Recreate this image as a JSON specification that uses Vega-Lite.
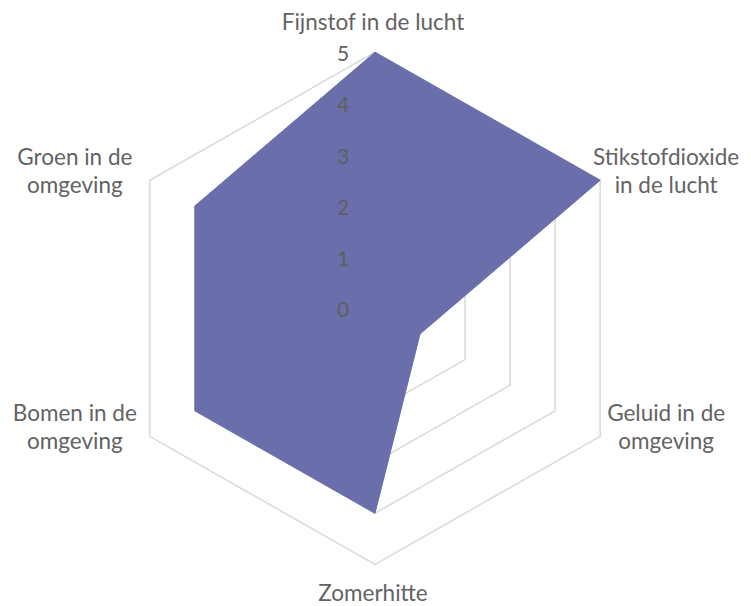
{
  "$schema": "https://vega.github.io/schema/vega-lite/v6.json",
  "width": 751,
  "height": 606,
  "padding": 0,
  "autosize": {"type": "fit", "contains": "padding"},
  "background": "#ffffff",
  "config": {"view": {"stroke": null}},
  "datasets": {
    "scores": [
      {"categorie": "Fijnstof in de lucht", "label": "Fijnstof in de lucht", "i": 0, "score": 5},
      {"categorie": "Stikstofdioxide in de lucht", "label": "Stikstofdioxide\nin de lucht", "i": 1, "score": 5},
      {"categorie": "Geluid in de omgeving", "label": "Geluid in de\nomgeving", "i": 2, "score": 1},
      {"categorie": "Zomerhitte", "label": "Zomerhitte", "i": 3, "score": 4},
      {"categorie": "Bomen in de omgeving", "label": "Bomen in de\nomgeving", "i": 4, "score": 4},
      {"categorie": "Groen in de omgeving", "label": "Groen in de\nomgeving", "i": 5, "score": 4}
    ],
    "grid": [
      {"niveau": 1, "i": 0}, {"niveau": 1, "i": 1}, {"niveau": 1, "i": 2}, {"niveau": 1, "i": 3}, {"niveau": 1, "i": 4}, {"niveau": 1, "i": 5},
      {"niveau": 2, "i": 0}, {"niveau": 2, "i": 1}, {"niveau": 2, "i": 2}, {"niveau": 2, "i": 3}, {"niveau": 2, "i": 4}, {"niveau": 2, "i": 5},
      {"niveau": 3, "i": 0}, {"niveau": 3, "i": 1}, {"niveau": 3, "i": 2}, {"niveau": 3, "i": 3}, {"niveau": 3, "i": 4}, {"niveau": 3, "i": 5},
      {"niveau": 4, "i": 0}, {"niveau": 4, "i": 1}, {"niveau": 4, "i": 2}, {"niveau": 4, "i": 3}, {"niveau": 4, "i": 4}, {"niveau": 4, "i": 5},
      {"niveau": 5, "i": 0}, {"niveau": 5, "i": 1}, {"niveau": 5, "i": 2}, {"niveau": 5, "i": 3}, {"niveau": 5, "i": 4}, {"niveau": 5, "i": 5}
    ],
    "ticks": [
      {"waarde": 0}, {"waarde": 1}, {"waarde": 2}, {"waarde": 3}, {"waarde": 4}, {"waarde": 5}
    ]
  },
  "layer": [
    {
      "data": {"name": "grid"},
      "transform": [
        {"calculate": "datum.niveau * sin(datum.i * PI / 3)", "as": "x"},
        {"calculate": "datum.niveau * cos(datum.i * PI / 3)", "as": "y"}
      ],
      "mark": {"type": "line", "interpolate": "linear-closed", "stroke": "#d9d9d9", "strokeWidth": 1.5},
      "encoding": {
        "x": {"field": "x", "type": "quantitative", "scale": {"domain": [-7.2115, 7.2308], "nice": false, "zero": false}, "axis": null},
        "y": {"field": "y", "type": "quantitative", "scale": {"domain": [-5.6346, 6.0192], "nice": false, "zero": false}, "axis": null},
        "detail": {"field": "niveau", "type": "nominal"},
        "order": {"field": "i", "type": "quantitative"}
      }
    },
    {
      "data": {"name": "scores"},
      "transform": [
        {"calculate": "datum.score * sin(datum.i * PI / 3)", "as": "x"},
        {"calculate": "datum.score * cos(datum.i * PI / 3)", "as": "y"}
      ],
      "mark": {"type": "line", "interpolate": "linear-closed", "fill": "#6A6EAB", "stroke": "#6A6EAB", "strokeWidth": 1},
      "encoding": {
        "x": {"field": "x", "type": "quantitative"},
        "y": {"field": "y", "type": "quantitative"},
        "order": {"field": "i", "type": "quantitative"}
      }
    },
    {
      "data": {"name": "ticks"},
      "transform": [
        {"calculate": "0", "as": "x"},
        {"calculate": "datum.waarde", "as": "y"}
      ],
      "mark": {"type": "text", "align": "center", "baseline": "middle", "dx": -32, "dy": 3, "font": "Lato", "fontSize": 21, "color": "#5f5f5f"},
      "encoding": {
        "x": {"field": "x", "type": "quantitative"},
        "y": {"field": "y", "type": "quantitative"},
        "text": {"field": "waarde", "type": "quantitative"}
      }
    },
    {
      "data": {"name": "scores"},
      "transform": [
        {"filter": "datum.i == 0"},
        {"calculate": "5 * sin(datum.i * PI / 3)", "as": "x"},
        {"calculate": "5 * cos(datum.i * PI / 3)", "as": "y"}
      ],
      "mark": {"type": "text", "align": "center", "baseline": "middle", "dx": -2, "dy": -29, "font": "Lato", "fontSize": 22.5, "color": "#636363", "lineBreak": "\n", "lineHeight": 28},
      "encoding": {
        "x": {"field": "x", "type": "quantitative"},
        "y": {"field": "y", "type": "quantitative"},
        "text": {"field": "label", "type": "nominal"}
      }
    },
    {
      "data": {"name": "scores"},
      "transform": [
        {"filter": "datum.i == 1 || datum.i == 2"},
        {"calculate": "5 * sin(datum.i * PI / 3)", "as": "x"},
        {"calculate": "5 * cos(datum.i * PI / 3)", "as": "y"}
      ],
      "mark": {"type": "text", "align": "center", "baseline": "middle", "dx": 66, "dy": -22, "font": "Lato", "fontSize": 22.5, "color": "#636363", "lineBreak": "\n", "lineHeight": 28},
      "encoding": {
        "x": {"field": "x", "type": "quantitative"},
        "y": {"field": "y", "type": "quantitative"},
        "text": {"field": "label", "type": "nominal"}
      }
    },
    {
      "data": {"name": "scores"},
      "transform": [
        {"filter": "datum.i == 3"},
        {"calculate": "5 * sin(datum.i * PI / 3)", "as": "x"},
        {"calculate": "5 * cos(datum.i * PI / 3)", "as": "y"}
      ],
      "mark": {"type": "text", "align": "center", "baseline": "middle", "dx": -2, "dy": 30, "font": "Lato", "fontSize": 22.5, "color": "#636363", "lineBreak": "\n", "lineHeight": 28},
      "encoding": {
        "x": {"field": "x", "type": "quantitative"},
        "y": {"field": "y", "type": "quantitative"},
        "text": {"field": "label", "type": "nominal"}
      }
    },
    {
      "data": {"name": "scores"},
      "transform": [
        {"filter": "datum.i == 4 || datum.i == 5"},
        {"calculate": "5 * sin(datum.i * PI / 3)", "as": "x"},
        {"calculate": "5 * cos(datum.i * PI / 3)", "as": "y"}
      ],
      "mark": {"type": "text", "align": "center", "baseline": "middle", "dx": -75, "dy": -22, "font": "Lato", "fontSize": 22.5, "color": "#636363", "lineBreak": "\n", "lineHeight": 28},
      "encoding": {
        "x": {"field": "x", "type": "quantitative"},
        "y": {"field": "y", "type": "quantitative"},
        "text": {"field": "label", "type": "nominal"}
      }
    }
  ]
}
